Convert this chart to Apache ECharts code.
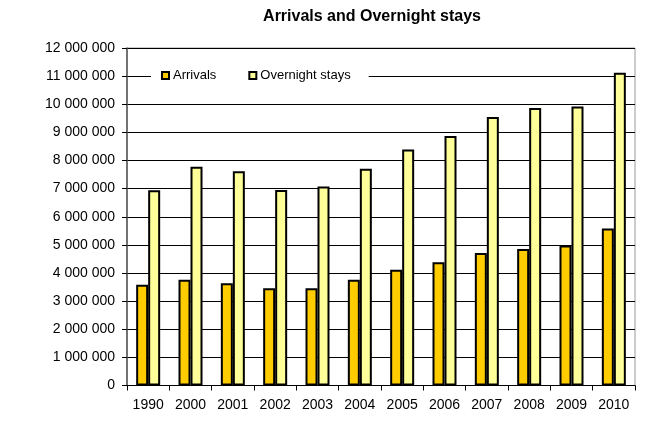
<!DOCTYPE html>
<html>
<head>
<meta charset="utf-8">
<script src="https://cdn.jsdelivr.net/npm/echarts@6/dist/echarts.min.js"></script>
<style>
html,body{margin:0;padding:0;background:#fff;}
#chart{width:661px;height:421px;}
</style>
</head>
<body>
<div id="chart"></div>
<script>
const categories = ['1990','2000','2001','2002','2003','2004','2005','2006','2007','2008','2009','2010'];
const arrivals = [3580000,3760000,3640000,3460000,3460000,3760000,4120000,4380000,4710000,4850000,4980000,5580000];
const overnightStays = [6940000,7780000,7620000,6950000,7080000,7710000,8390000,8870000,9550000,9870000,9920000,11120000];
const yTicks = { min: 0, max: 12000000, interval: 1000000 };

const font = 'Liberation Sans, Arial, sans-serif';
const chart = echarts.init(document.getElementById('chart'), null, {renderer:'canvas'});
function fmt(v){ return String(v).replace(/\B(?=(\d{3})+(?!\d))/g, ' '); }
chart.setOption({
  animation: false,
  backgroundColor: '#fff',
  title: {
    text: 'Arrivals and Overnight stays',
    left: 367, top: 4, textAlign: 'center',
    textStyle: { fontFamily: font, fontSize: 16, fontWeight: 'bold', color: '#000' }
  },
  legend: {
    left: 151, top: 66,
    backgroundColor: '#fff',
    padding: [3, 18, 3, 10],
    itemWidth: 7, itemHeight: 7, itemGap: 32,
    selectedMode: false,
    icon: 'rect',
    textStyle: { fontFamily: font, fontSize: 13, color: '#000', padding: [0,0,0,-1] },
    itemStyle: { borderColor: '#000', borderWidth: 2 }
  },
  grid: {
    left: 127, right: 26, top: 48, bottom: 35.5,
    show: true, borderColor: '#999', borderWidth: 1, backgroundColor: 'transparent'
  },
  xAxis: {
    type: 'category', data: categories,
    axisLine: { lineStyle: { color: '#000', width: 1 } },
    axisTick: { show: true, length: 5, alignWithLabel: false, lineStyle: { color: '#000' } },
    axisLabel: { fontFamily: font, fontSize: 14, color: '#000', margin: 13 }
  },
  yAxis: {
    type: 'value', min: yTicks.min, max: yTicks.max, interval: yTicks.interval,
    axisLine: { show: true, lineStyle: { color: '#555', width: 1.5 } },
    axisTick: { show: true, length: 5, lineStyle: { color: '#000' } },
    splitLine: { show: true, lineStyle: { color: '#000', width: 1 } },
    axisLabel: { fontFamily: font, fontSize: 14, color: '#000', margin: 12, formatter: fmt }
  },
  series: [
    { name: 'Arrivals', type: 'bar', data: arrivals, barWidth: 12, barGap: '0%',
      itemStyle: { color: '#FFCC00', borderColor: '#000', borderWidth: 2 } },
    { name: 'Overnight stays', type: 'bar', data: overnightStays, barWidth: 12, barGap: '0%',
      itemStyle: { color: '#FFFF99', borderColor: '#000', borderWidth: 2 } }
  ]
});
</script>
</body>
</html>
